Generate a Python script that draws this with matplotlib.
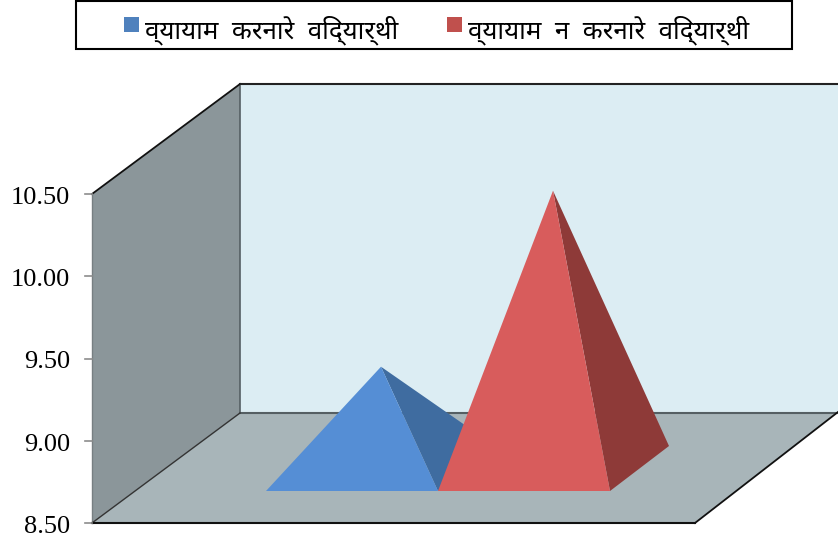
import matplotlib
matplotlib.use('Agg')
import matplotlib.pyplot as plt
from matplotlib.patches import Polygon, Rectangle

plt.rcParams['font.family'] = ['Liberation Serif', 'DejaVu Sans']

tick_values = [8.5, 9.0, 9.5, 10.0, 10.5]
tick_labels = ['8.50', '9.00', '9.50', '10.00', '10.50']
series_names = ['व्यायाम  करनारे  विद्यार्थी', 'व्यायाम  न  करनारे  विद्यार्थी']
series_values = [9.45, 10.52]

W, H = 838, 545
fig = plt.figure(figsize=(W / 100, H / 100), dpi=100)
ax = fig.add_axes([0, 0, 1, 1])
ax.set_xlim(0, W)
ax.set_ylim(H, 0)
ax.axis('off')

y0 = 523          # pixel row of 8.50 on the front edge
unit = (523 - 194) / 2.0   # pixels per data unit
dx, dy = 148, -110  # depth offset of the back wall


def val_y(v):
    return y0 - (v - tick_values[0]) * unit


top = val_y(tick_values[-1])
front_x = 92
back_x = front_x + dx
ax.add_patch(Polygon([(back_x, top + dy), (838, top + dy), (838, y0 + dy), (back_x, y0 + dy)],
                     fc='#dcedf3', ec='none', zorder=1))
ax.add_patch(Polygon([(front_x, top), (back_x, top + dy), (back_x, y0 + dy), (front_x, y0)],
                     fc='#8b969a', ec='none', zorder=1))
ax.add_patch(Polygon([(front_x, y0), (back_x, y0 + dy), (838, y0 + dy), (838, 412), (695, y0)],
                     fc='#a8b5b9', ec='none', zorder=1))

ax.plot([back_x, 838], [top + dy, top + dy], color='#222222', lw=1.5, zorder=2)
ax.plot([back_x, 838], [y0 + dy, y0 + dy], color='#555f63', lw=1.5, zorder=2)
ax.plot([back_x, back_x], [top + dy, y0 + dy], color='#555f63', lw=1.2, zorder=2)
ax.plot([front_x, back_x], [top, top + dy], color='#111111', lw=1.3, zorder=2)
ax.plot([front_x, front_x], [top, y0], color='#777f82', lw=1, zorder=2)
ax.plot([front_x, back_x], [y0, y0 + dy], color='#333333', lw=1, zorder=2)
ax.plot([front_x, 695], [y0, y0], color='#111111', lw=1.5, zorder=2)
ax.plot([695, 838], [y0, 412], color='#111111', lw=1.3, zorder=2)

# pyramids
base_y = 491
bases = [(266, 438), (438, 610)]
tips = [381, 553]
front_cols = ['#558ed5', '#d85c5c']
side_cols = ['#3f6ca0', '#8e3a38']
back_xs = [495, 669]
back_y = 446
for b, t, v, fc, sc, bx in zip(bases, tips, series_values, front_cols, side_cols, back_xs):
    ty = val_y(v)
    ax.add_patch(Polygon([(t, ty), (b[1], base_y), (bx, back_y)], fc=sc, ec='none', zorder=3))
    ax.add_patch(Polygon([(b[0], base_y), (b[1], base_y), (t, ty)], fc=fc, ec='none', zorder=3))

# y ticks and labels
for v, lab in zip(tick_values, tick_labels):
    ax.plot([85, front_x], [val_y(v), val_y(v)], color='#8c8c8c', lw=1.2, zorder=2)
    ax.text(70, val_y(v) + 4, lab, ha='right', va='center', fontsize=19, color='black')

# legend
ax.add_patch(Rectangle((76, 0.5), 716, 48, fc='white', ec='black', lw=1.5))
ax.add_patch(Rectangle((124, 17), 15, 15, fc='#4f81bd', ec='none'))
ax.add_patch(Rectangle((447, 17), 15, 15, fc='#c0504d', ec='none'))
ax.text(145, 30, series_names[0], ha='left', va='center', fontsize=18.7, family=['Noto Sans', 'DejaVu Sans'])
ax.text(468, 30, series_names[1], ha='left', va='center', fontsize=18.7, family=['Noto Sans', 'DejaVu Sans'])

fig.savefig('out.png', dpi=100)
